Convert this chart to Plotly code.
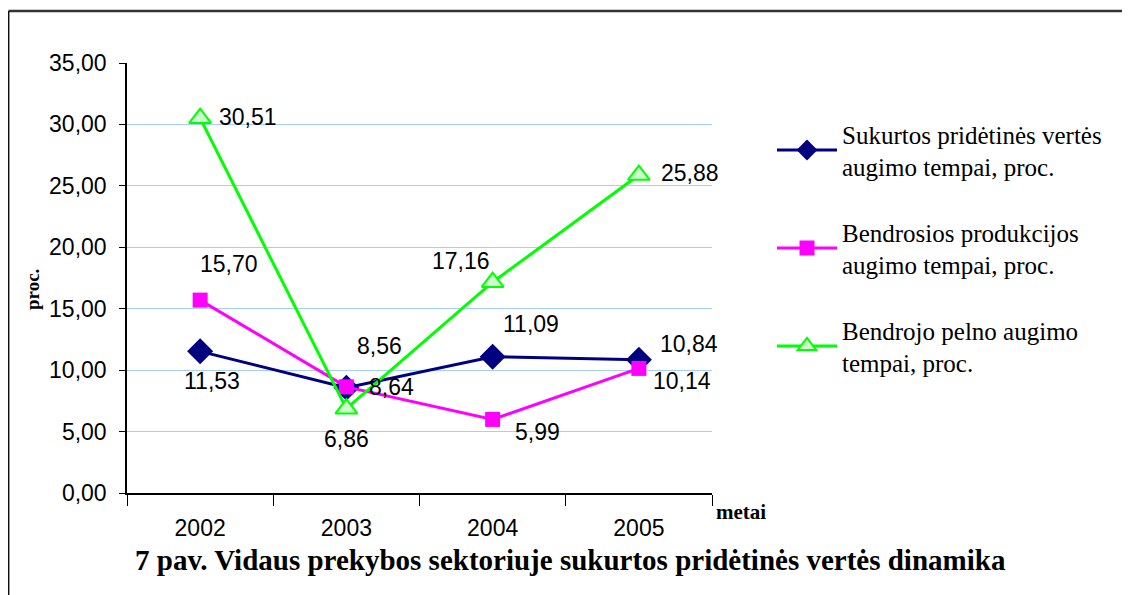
import plotly.graph_objects as go

years = ["2002", "2003", "2004", "2005"]
pridetine = [11.53, 8.56, 11.09, 10.84]
produkcija = [15.70, 8.64, 5.99, 10.14]
pelnas = [30.51, 6.86, 17.16, 25.88]

names = [
    "Sukurtos pridėtinės vertės<br>augimo tempai, proc.",
    "Bendrosios produkcijos<br>augimo tempai, proc.",
    "Bendrojo pelno augimo<br>tempai, proc.",
]

# label offsets (px) per point: (xshift, yshift)
off_blue = [(12, -30), (33, 42), (38, 33), (50, 16)]
off_pink = [(29, 36), (45, 0), (45, -13), (43, -13)]
off_green = [(48, 1), (0, -30), (-32, 21), (51, 2)]

# page offset: the html body has an 8px margin
PX = 8
W, H = 1130 - PX, 595 - PX
def px_x(x):
    return (x - 127) / 585
def px_y(y):
    return (493 - y) / 430

fig = go.Figure()
fig.add_trace(go.Scatter(
    x=years, y=pridetine, name=names[0], legendgroup="a",
    mode="lines+markers",
    line=dict(color="#000080", width=3),
    marker=dict(symbol="diamond", size=20, color="#000080"),
))
fig.add_trace(go.Scatter(
    x=years, y=produkcija, name=names[1], legendgroup="b",
    mode="lines+markers",
    line=dict(color="#FF00FF", width=3),
    marker=dict(symbol="square", size=15, color="#FF00FF"),
))
fig.add_trace(go.Scatter(
    x=years, y=pelnas, name=names[2], legendgroup="c",
    mode="lines+markers",
    line=dict(color="#00FF00", width=3),
    marker=dict(symbol="triangle-up", size=19, color="#CCFFCC",
                line=dict(color="#00FF00", width=2)),
))

def fmt(v):
    return f"{v:.2f}".replace(".", ",")

annots = []
for vals, offs in [(pridetine, off_blue), (produkcija, off_pink), (pelnas, off_green)]:
    for i, (v, (dx, dy)) in enumerate(zip(vals, offs)):
        annots.append(dict(x=i, y=v, text=fmt(v), showarrow=False,
                           xshift=dx, yshift=dy,
                           font=dict(family="Liberation Sans, Arial", size=23, color="black")))

annots.append(dict(xref="paper", yref="paper", x=px_x(32), y=px_y(290),
                   xanchor="center", yanchor="middle",
                   text="<b>proc.</b>", textangle=-90, showarrow=False,
                   font=dict(family="Liberation Serif, Times New Roman", size=19, color="black")))
annots.append(dict(xref="paper", yref="paper", x=px_x(741), y=px_y(512),
                   xanchor="center", yanchor="middle",
                   text="<b>metai</b>", showarrow=False,
                   font=dict(family="Liberation Serif, Times New Roman", size=21, color="black")))
annots.append(dict(xref="paper", yref="paper", x=px_x(570), y=px_y(560),
                   xanchor="center", yanchor="middle",
                   text="<b>7 pav. Vidaus prekybos sektoriuje sukurtos pridėtinės vertės dinamika</b>",
                   showarrow=False,
                   font=dict(family="Liberation Serif, Times New Roman", size=29, color="black")))

fig.update_layout(
    width=W, height=H,
    margin=dict(l=127 - PX, r=W - (712 - PX), t=63 - PX, b=H - (493 - PX), autoexpand=False),
    paper_bgcolor="white", plot_bgcolor="white",
    separators=", ",
    showlegend=True,
    legend=dict(x=px_x(772), y=px_y(111), xanchor="left", yanchor="top",
                font=dict(family="Liberation Serif, Times New Roman", size=25, color="black"),
                tracegroupgap=30, itemwidth=60, bgcolor="rgba(0,0,0,0)"),
    annotations=annots,
    shapes=[
        dict(type="line", xref="paper", yref="paper",
             x0=px_x(8.5), x1=px_x(1145), y0=px_y(11), y1=px_y(11),
             line=dict(color="#333333", width=2.5)),
        dict(type="line", xref="paper", yref="paper",
             x0=px_x(8.7), x1=px_x(8.7), y0=px_y(11), y1=px_y(615),
             line=dict(color="#111111", width=1.5)),
    ],
)
fig.update_xaxes(
    type="category", range=[-0.5, 3.5], tickson="boundaries",
    ticks="outside", ticklen=11, tickcolor="black",
    showline=True, linecolor="black", linewidth=1.5,
    showgrid=False, zeroline=False, ticklabelstandoff=14,
    tickfont=dict(family="Liberation Sans, Arial", size=23, color="black"),
)
fig.update_yaxes(
    range=[0, 35], dtick=5, tickformat=".2f",
    ticks="outside", ticklen=6, tickcolor="black",
    showline=True, linecolor="black", linewidth=1.5,
    showgrid=True, gridcolor="#A6CFF7", gridwidth=1, zeroline=False,
    ticklabelstandoff=8,
    tickfont=dict(family="Liberation Sans, Arial", size=23, color="black"),
)

fig.write_html("out.html")
